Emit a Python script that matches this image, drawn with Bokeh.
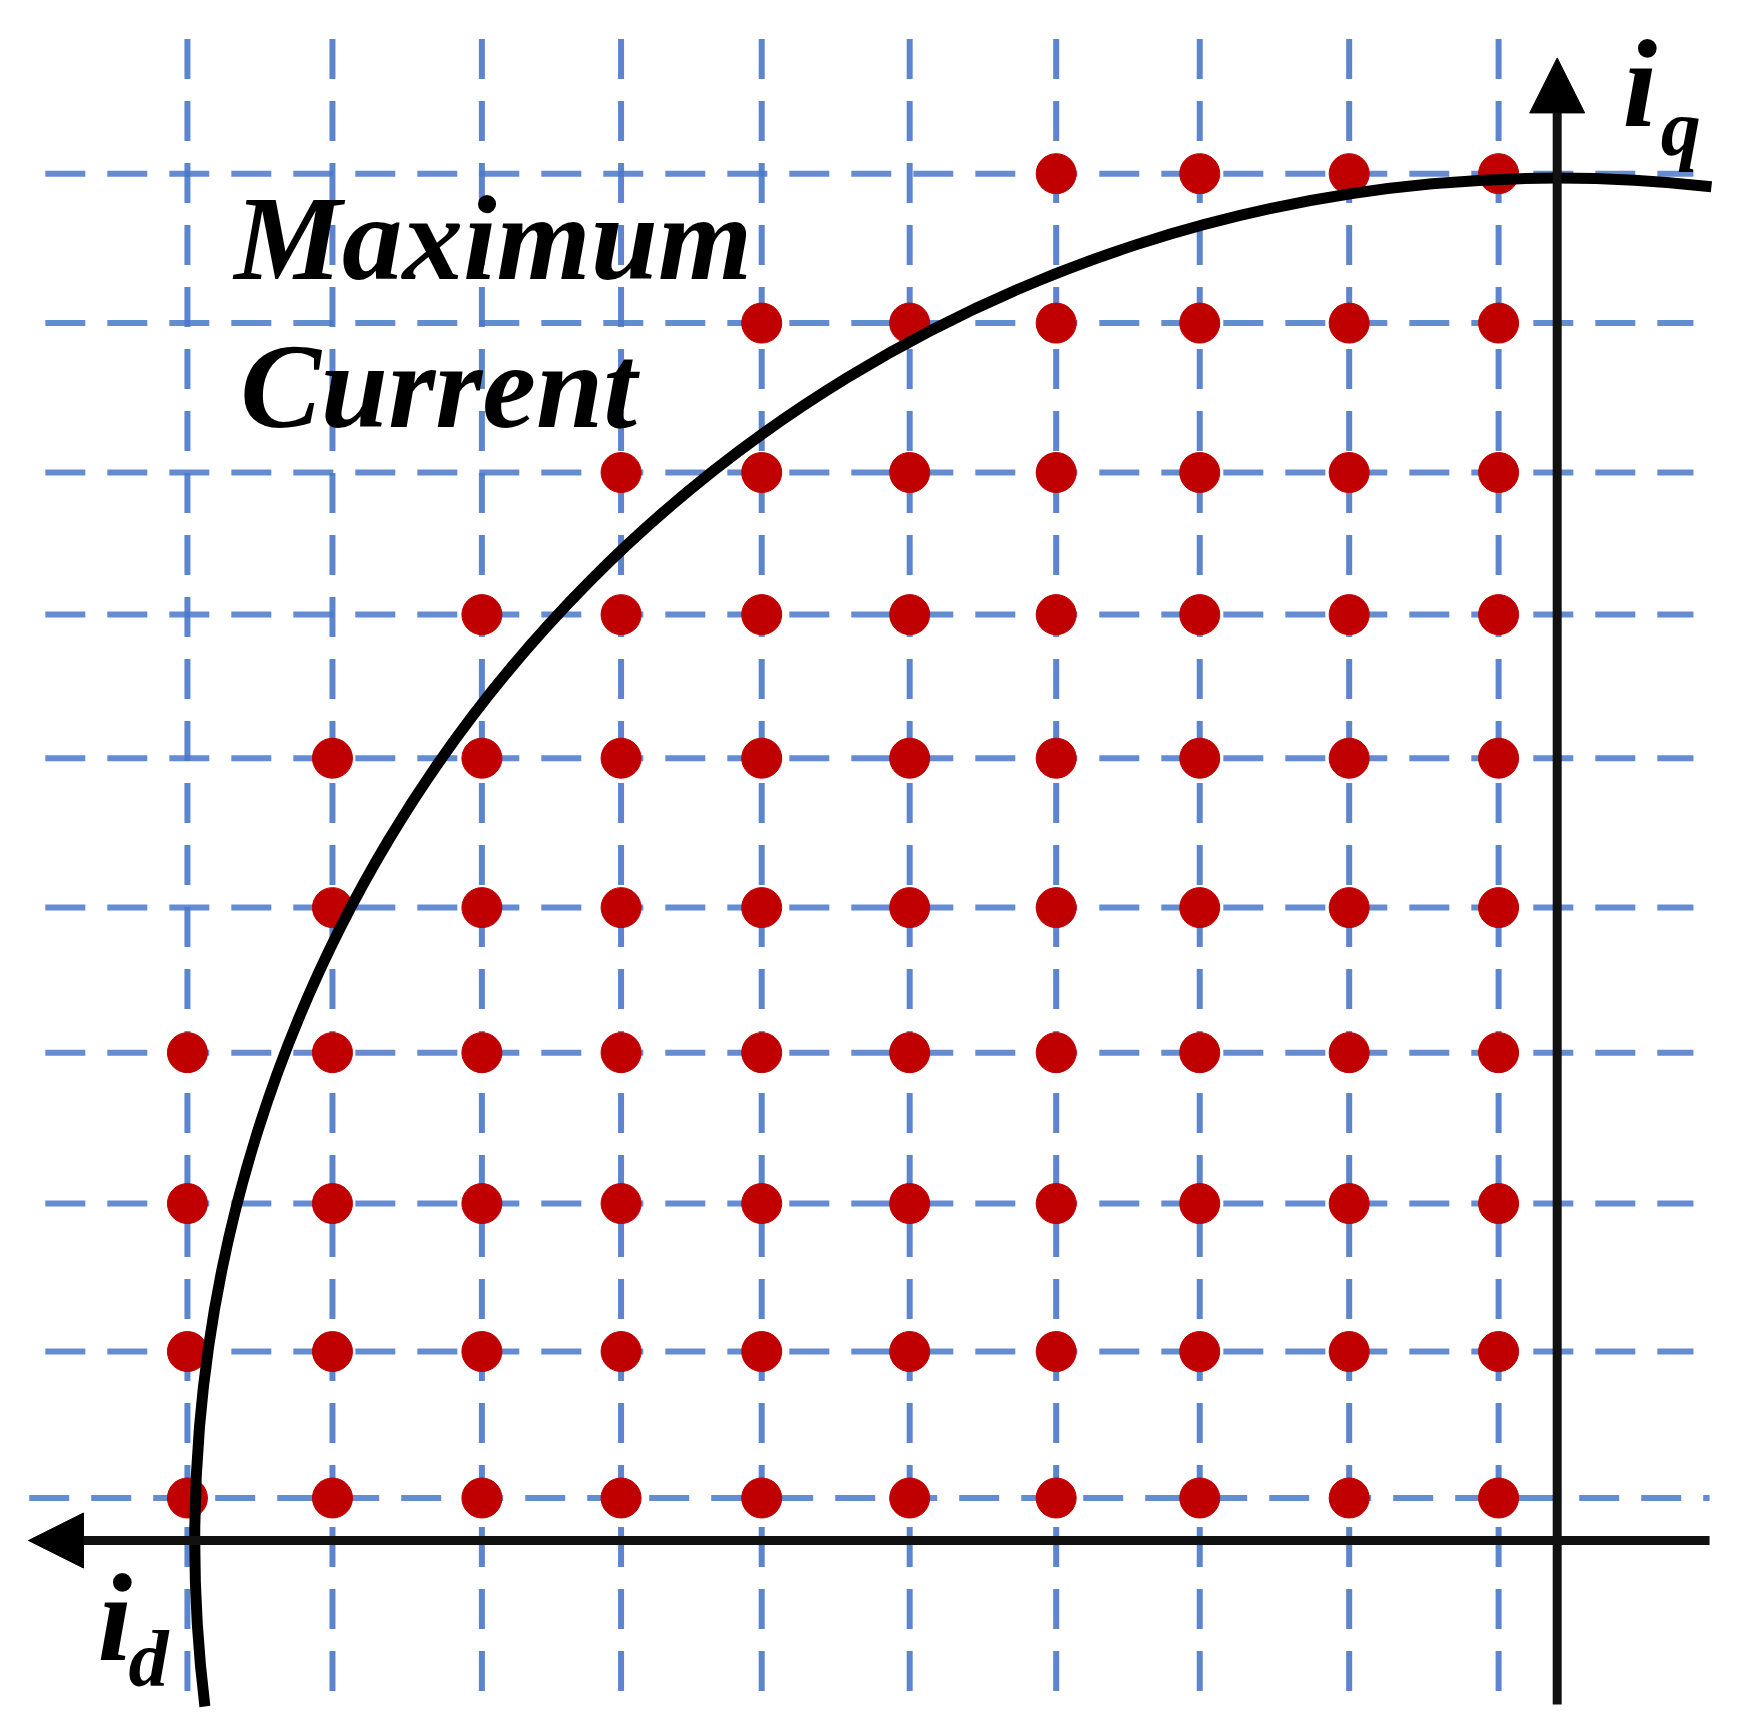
from bokeh.plotting import figure
from bokeh.models import Range1d, Arrow, NormalHead
from bokeh.core.properties import value
from bokeh.embed import file_html
from bokeh.resources import INLINE
import math

# ---- data (grid units, origin at the axes crossing) ----
id_grid = [-9.35, -8.36, -7.34, -6.39, -5.43, -4.42, -3.42, -2.44, -1.42, -0.40]   # i_d grid columns
iq_grid = [0.29, 1.29, 2.30, 3.33, 4.32, 5.34, 6.32, 7.29, 8.31, 9.33]             # i_q grid rows
# for each i_q row (bottom -> top): index of the first column carrying a dot
first_dot_col = [0, 0, 0, 0, 1, 1, 2, 3, 4, 6]
i_max = 9.3                      # radius of the maximum-current circle
arc_start_deg = 83.5
arc_end_deg = 187.0
label_lines = ["Maximum", "Current"]

# ---- build points from the data ----
dot_x, dot_y = [], []
for r, c0 in enumerate(first_dot_col):
    for c in range(c0, len(id_grid)):
        dot_x.append(id_grid[c])
        dot_y.append(iq_grid[r])

# ---- figure geometry (equal px per unit on both axes) ----
W, H = 1738, 1723
K = 146.5
OX, OY = 1556.7, 1540.0
p = figure(width=W, height=H,
           x_range=Range1d(-OX / K, (W - OX) / K),
           y_range=Range1d(-(H - OY) / K, OY / K),
           output_backend="svg", toolbar_location=None,
           x_axis_location=None, y_axis_location=None,
           min_border=0, min_border_left=0, min_border_right=0,
           min_border_top=0, min_border_bottom=0)
p.grid.visible = False
p.outline_line_color = None
p.background_fill_color = "white"
p.border_fill_color = "white"

grid_color = "#4a78c8"
# vertical dashed grid lines (top -> bottom)
p.segment(x0=id_grid, y0=[10.25] * len(id_grid), x1=id_grid, y1=[-1.12] * len(id_grid),
          line_color=grid_color, line_width=6, line_dash="40 22", line_alpha=0.9)
# horizontal dashed grid lines (left -> right)
hx0 = [-10.43] + [-10.32] * (len(iq_grid) - 1)
hx1 = [1.04] + [0.93] * (len(iq_grid) - 1)
p.segment(x0=hx0, y0=iq_grid, x1=hx1, y1=iq_grid,
          line_color=grid_color, line_width=6, line_dash="40 22", line_alpha=0.85)

# operating points
p.scatter(dot_x, dot_y, size=40, fill_color="#c00000", line_color="#c00000", line_width=1)

# axes with arrows
p.add_layout(Arrow(end=NormalHead(size=55, fill_color="black", line_color="black"),
                   x_start=1.04, y_start=0, x_end=-10.435, y_end=0,
                   line_width=9, line_color="#111111"))
p.add_layout(Arrow(end=NormalHead(size=55, fill_color="black", line_color="black"),
                   x_start=0, y_start=-1.12, x_end=0, y_end=10.12,
                   line_width=9, line_color="#111111"))

# maximum current circle
p.arc(x=[0], y=[0], radius=i_max,
      start_angle=math.radians(arc_start_deg), end_angle=math.radians(arc_end_deg),
      line_color="black", line_width=11)

serif = value("Liberation Serif")
p.text(x=[-9.03, -8.99], y=[8.894, 7.88], text=label_lines,
       text_font=serif, text_font_style="bold italic", text_font_size="121px",
       text_baseline="alphabetic", text_align="left", text_color="black")

# axis labels i_d and i_q
p.text(x=[0.446, -9.964], y=[9.945, -0.526], text=["i", "i"],
       text_font=serif, text_font_style="bold italic", text_font_size="125px",
       text_baseline="alphabetic", text_align="left", text_color="black")
p.text(x=[0.706, -9.753], y=[9.64, -0.81], text=["q", "d"],
       text_font=serif, text_font_style="bold italic", text_font_size="80px",
       text_baseline="alphabetic", text_align="left", text_color="black")

open("out.html", "w").write(file_html(p, INLINE))
